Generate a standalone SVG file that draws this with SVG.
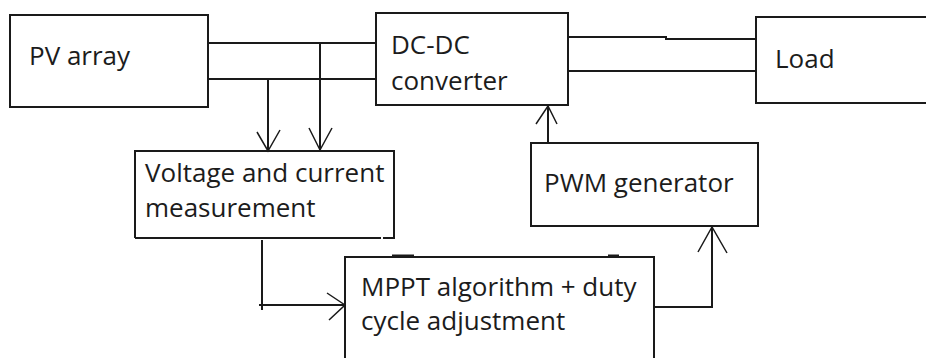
<svg xmlns="http://www.w3.org/2000/svg" width="926" height="358" viewBox="0 0 926 358">
  <style>
    .box { fill: #ffffff; stroke: #1a1a1a; stroke-width: 2; }
    .wire { fill: none; stroke: #1a1a1a; stroke-width: 2; }
    .head { fill: none; stroke: #1a1a1a; stroke-width: 1.5; }
    .lbl { font-family: "Open Sans", "Liberation Sans", sans-serif; font-size: 26px; fill: #1c1c1c; }
  </style>
  <rect width="926" height="358" fill="#ffffff"/>

  <!-- signal and power lines -->
  <g id="connectors">
    <!-- PV array to converter (two conductors) -->
    <line class="wire" x1="208" y1="43" x2="376" y2="43"/>
    <line class="wire" x1="208" y1="79" x2="376" y2="79"/>
    <!-- sensing taps down to the measurement block -->
    <line class="wire" x1="268" y1="79" x2="268" y2="151"/>
    <polyline class="head" points="257,132 268,151 280,130"/>
    <line class="wire" x1="320" y1="43" x2="320" y2="151"/>
    <polyline class="head" points="309,128 320,150 332,128"/>
    <!-- converter to load -->
    <polyline class="wire" points="568,37 666,37 666,39 759,39"/>
    <line class="wire" x1="566" y1="71" x2="763" y2="71"/>
    <!-- PWM to converter -->
    <line class="wire" x1="548" y1="143" x2="548" y2="106"/>
    <polyline class="head" points="536,124 548,106 557,124"/>
    <!-- measurement to MPPT -->
    <polyline class="wire" points="262,240 262,310"/>
    <line class="wire" x1="259" y1="305" x2="345" y2="305"/>
    <polyline class="head" points="327,293 345,305 329,320"/>
    <!-- MPPT to PWM -->
    <polyline class="wire" points="654,307 712,307 712,227"/>
    <polyline class="head" points="698,252 712,227 727,253"/>
  </g>

  <g id="pv-array">
    <rect class="box" x="10" y="15" width="198" height="92"/>
    <text class="lbl" x="29" y="65">PV array</text>
  </g>

  <g id="dc-dc-converter">
    <rect class="box" x="376" y="13" width="192" height="92"/>
    <text class="lbl" x="391" y="54">DC-DC</text>
    <text class="lbl" x="391" y="90">converter</text>
  </g>

  <g id="load">
    <rect class="box" x="756" y="17" width="190" height="86"/>
    <text class="lbl" x="775" y="68">Load</text>
  </g>

  <g id="pwm-generator">
    <rect class="box" x="531" y="143" width="227" height="83"/>
    <text class="lbl" x="544" y="192">PWM generator</text>
  </g>

  <g id="measurement">
    <path class="wire" d="M135,238 L135,151 L394,151 L394,238 L383,238 M381,238 L135,238"/>
    <text class="lbl" x="145" y="182">Voltage and current</text>
    <text class="lbl" x="145" y="217">measurement</text>
  </g>

  <g id="mppt">
    <rect class="box" x="345" y="257" width="309" height="120"/>
    <rect x="392" y="254.5" width="22" height="3" fill="#1a1a1a"/>
    <rect x="608" y="254.5" width="11" height="3" fill="#1a1a1a"/>
    <text class="lbl" x="361" y="296">MPPT algorithm + duty</text>
    <text class="lbl" x="361" y="330">cycle adjustment</text>
  </g>
</svg>
